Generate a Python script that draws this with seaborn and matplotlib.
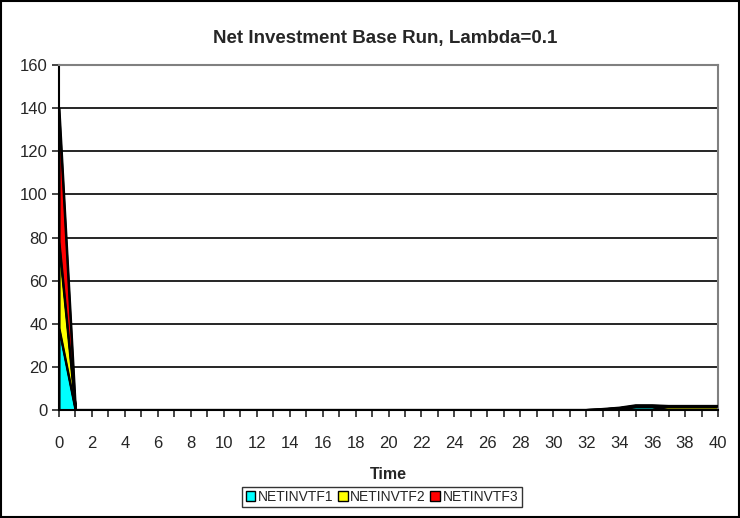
import numpy as np
import pandas as pd
import matplotlib
matplotlib.use("Agg")
import matplotlib.pyplot as plt
from matplotlib.patches import Patch, Rectangle
import seaborn as sns

# values (stacked area, Time 0..40)
time = list(range(41))
netinvtf1 = [38] + [0] * 32 + [0.3, 0.8, 1.5, 1.5, 0, 0, 0, 0]
netinvtf2 = [40] + [0] * 32 + [0, 0, 0.3, 0.3, 1.5, 1.5, 1.5, 1.5]
netinvtf3 = [62] + [0] * 32 + [0.2, 0.3, 0.4, 0.4, 0.4, 0.4, 0.4, 0.4]
series_names = ["NETINVTF1", "NETINVTF2", "NETINVTF3"]
colors = ["#00FFFF", "#FFFF00", "#FF0000"]

df = pd.DataFrame({"Time": time, "NETINVTF1": netinvtf1,
                   "NETINVTF2": netinvtf2, "NETINVTF3": netinvtf3})

sns.set_style("white")
plt.rcParams["font.family"] = ["Liberation Sans", "DejaVu Sans"]

fig = plt.figure(figsize=(7.4, 5.18), dpi=100)
ax = fig.add_axes([59 / 740, 1 - 410 / 518, 659 / 740, 345 / 518])

# horizontal gridlines
for yv in range(20, 161, 20):
    ax.axhline(yv, color="black", lw=1.2, zorder=0)

ax.stackplot(df["Time"], df["NETINVTF1"], df["NETINVTF2"], df["NETINVTF3"],
             colors=colors, edgecolor="black", linewidth=1.5, zorder=2)

# black boundary lines of the stacked layers
cum = df[series_names].cumsum(axis=1)
for name in series_names:
    sns.lineplot(x=df["Time"], y=cum[name], color="black", lw=1.5, ax=ax, zorder=3)

ax.set_xlim(0, 40)
ax.set_ylim(0, 160)
ax.set_xticks(range(0, 41, 1))
ax.set_xticklabels([str(t) if t % 2 == 0 else "" for t in range(41)], fontsize=12)
ax.set_yticks(range(0, 161, 20))
ax.tick_params(axis="y", labelsize=12, direction="out", length=5, width=1.2, left=True, pad=3)
ax.tick_params(axis="x", direction="out", length=5, width=1.2, bottom=True, pad=14)

for side in ["left", "bottom"]:
    ax.spines[side].set_color("black")
    ax.spines[side].set_linewidth(1.5)
for side in ["top", "right"]:
    ax.spines[side].set_color("#808080")
    ax.spines[side].set_linewidth(1.5)
ax.spines["top"].set_visible(True)
ax.spines["right"].set_visible(True)

ax.set_xlabel("Time", fontsize=11.5, fontweight="bold", labelpad=11)
ax.set_ylabel("")
fig.text(0.52, 1 - 38 / 518, "Net Investment Base Run, Lambda=0.1",
         ha="center", va="center", fontsize=13.5, fontweight="bold")

handles = [Patch(facecolor=c, edgecolor="black", label=n) for c, n in zip(colors, series_names)]
leg = fig.legend(handles=handles, loc="center", bbox_to_anchor=(382 / 740, 1 - 497 / 518),
                 ncol=3, fontsize=10, frameon=True, fancybox=False, edgecolor="black",
                 handlelength=0.7, handleheight=0.7, handletextpad=0.2, columnspacing=0.3,
                 borderpad=0.25, borderaxespad=0)
leg.get_frame().set_linewidth(1.0)

# chart area border
fig.patches.append(Rectangle((0.001, 0.001), 0.998, 0.997, transform=fig.transFigure,
                             fill=False, edgecolor="black", lw=1.5))

fig.savefig("out.png", dpi=100)
